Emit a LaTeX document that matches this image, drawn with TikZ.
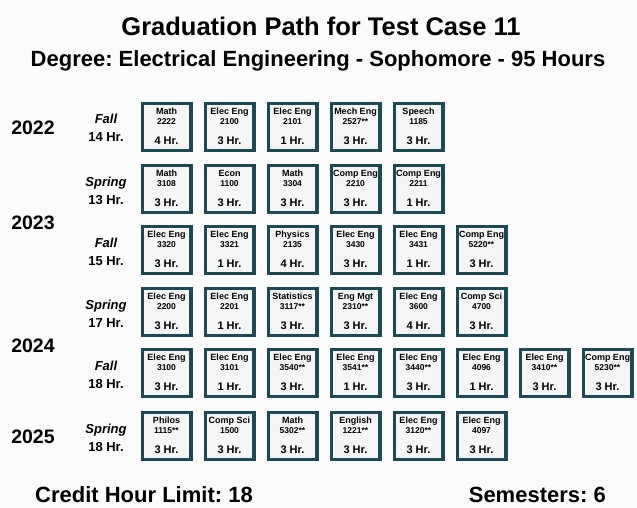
\documentclass[tikz,border=0pt]{standalone}
\usepackage{fontspec}
\setmainfont{Liberation Sans}
\frenchspacing
\definecolor{frame}{RGB}{26,74,88}
\definecolor{boxfill}{RGB}{245,245,245}
\definecolor{bgc}{RGB}{251,251,252}
\tikzset{
  course/.style={draw=frame, line width=3.3pt, fill=boxfill, minimum width=48.7pt, minimum height=46.7pt, inner sep=0pt},
  dept/.style={font=\bfseries\fontsize{9}{10}\selectfont, inner sep=0pt, anchor=base},
  num/.style={font=\bfseries\fontsize{8.5}{10}\selectfont, inner sep=0pt, anchor=base},
  hrs/.style={font=\bfseries\fontsize{11}{12}\selectfont, inner sep=0pt, anchor=base},
  titletxt/.style={font=\bfseries\fontsize{25.5}{28}\selectfont, inner sep=0pt, anchor=base},
  subtxt/.style={font=\bfseries\fontsize{22}{24}\selectfont, inner sep=0pt, anchor=base},
  yeartxt/.style={font=\bfseries\fontsize{19.5}{21}\selectfont, inner sep=0pt, anchor=base},
  semname/.style={font=\bfseries\itshape\fontsize{13}{14}\selectfont, inner sep=0pt, anchor=base},
  semhrs/.style={font=\bfseries\fontsize{13}{14}\selectfont, inner sep=0pt, anchor=base},
}
\newcommand\courserow[3]{%
  \foreach \d/\n/\h [count=\i from 0] in {#3} {
    \node[course] (r#1c\i) at ({166.5+63*\i}, #2+25) {};
    \node[dept] (r#1c\i d) at ({166.5+63*\i}, #2+12.5) {\d};
    \node[num] (r#1c\i n) at ({166.5+63*\i}, #2+22.5) {\n};
    \node[hrs]  (r#1c\i h) at ({166.5+63*\i}, #2+42.5) {\h\ Hr.};
  }}
\newcommand\semlabel[4]{%
  \node[semname] (s#1n) at (106, #2+25-3) {#3};
  \node[semhrs] (s#1h) at (106, #2+25+15) {#4};
}
\begin{document}
\begin{tikzpicture}[x=1pt,y=-1pt]
\fill[bgc] (0,0) rectangle (637,508);
\useasboundingbox (0,0) rectangle (637,508);
\node[titletxt] (title) at (321,36) {Graduation Path for Test Case 11};
\node[subtxt] (subtitle) at (318,67) {Degree: Electrical Engineering - Sophomore - 95 Hours};
\node[yeartxt] (y2022) at (33,135) {2022};
\node[yeartxt] (y2023) at (33,229) {2023};
\node[yeartxt] (y2024) at (33,352.5) {2024};
\node[yeartxt] (y2025) at (33,443) {2025};
\semlabel{1}{102}{Fall}{14 Hr.}
\semlabel{2}{164}{Spring}{13 Hr.}
\semlabel{3}{225}{Fall}{15 Hr.}
\semlabel{4}{287}{Spring}{17 Hr.}
\semlabel{5}{348}{Fall}{18 Hr.}
\semlabel{6}{411}{Spring}{18 Hr.}
\courserow{1}{102}{Math/2222/4, Elec Eng/2100/3, Elec Eng/2101/1, Mech Eng/2527**/3, Speech/1185/3}
\courserow{2}{164}{Math/3108/3, Econ/1100/3, Math/3304/3, Comp Eng/2210/3, Comp Eng/2211/1}
\courserow{3}{225}{Elec Eng/3320/3, Elec Eng/3321/1, Physics/2135/4, Elec Eng/3430/3, Elec Eng/3431/1, Comp Eng/5220**/3}
\courserow{4}{287}{Elec Eng/2200/3, Elec Eng/2201/1, Statistics/3117**/3, Eng Mgt/2310**/3, Elec Eng/3600/4, Comp Sci/4700/3}
\courserow{5}{348}{Elec Eng/3100/3, Elec Eng/3101/1, Elec Eng/3540**/3, Elec Eng/3541**/1, Elec Eng/3440**/3, Elec Eng/4096/1, Elec Eng/3410**/3, Comp Eng/5230**/3}
\courserow{6}{411}{Philos/1115**/3, Comp Sci/1500/3, Math/5302**/3, English/1221**/3, Elec Eng/3120**/3, Elec Eng/4097/3}
\node[subtxt, anchor=base west] (limit) at (35,502) {Credit Hour Limit: 18};
\node[subtxt, anchor=base east] (sems) at (606,502) {Semesters: 6};
\end{tikzpicture}
\end{document}
